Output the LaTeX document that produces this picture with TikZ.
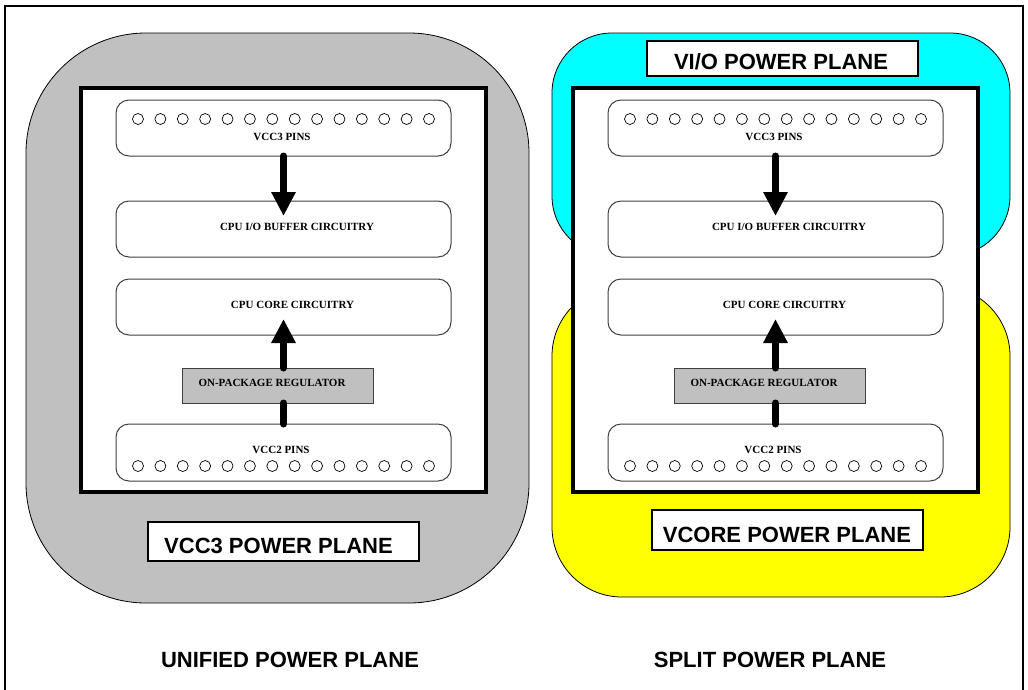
\documentclass[tikz,border=0pt]{standalone}
\usepackage{fontspec}
\setmainfont{Liberation Serif}
\setsansfont{Liberation Sans}
\usetikzlibrary{arrows.meta}
\definecolor{planegray}{HTML}{C0C0C0}
\definecolor{planecyan}{HTML}{00FFFF}
\definecolor{planeyellow}{HTML}{FFFF00}
\definecolor{boxline}{HTML}{404040}
\tikzset{
  plane/.style={draw=black, line width=0.8pt},
  chip/.style={draw=black, line width=3.5pt, fill=white, minimum width=405pt, minimum height=404pt, inner sep=0pt, outer sep=0pt},
  cbox/.style={draw=boxline, line width=1pt, rounded corners=13pt, fill=white, minimum width=335pt, minimum height=56pt, inner sep=0pt, outer sep=0pt},
  regbox/.style={draw=boxline, line width=1pt, fill=planegray, minimum width=191pt, minimum height=35pt, inner sep=0pt, outer sep=0pt},
  lblbox/.style={draw=black, line width=1.5pt, fill=white, minimum width=271pt, inner sep=0pt, outer sep=0pt},
  pin/.style={circle, draw=black, line width=0.7pt, minimum size=11pt, inner sep=0pt},
  smalltxt/.style={font=\bfseries\fontsize{11}{13}\selectfont, inner sep=0pt, anchor=base},
  bigtxt/.style={font=\sffamily\bfseries\fontsize{22}{26}\selectfont, inner sep=0pt, anchor=base},
  powerarrow/.style={line width=7pt, line cap=round, -{Triangle[length=24pt,width=23pt]}},
  powerline/.style={line width=7pt, line cap=round}
}
\begin{document}
\begin{tikzpicture}[x=1pt,y=-1pt]
\useasboundingbox (0,0) rectangle (1028,689);
% outer frame
\draw[line width=2pt] (5,6) rectangle (1023,700);
% power planes
\draw[plane, fill=planegray, rounded corners=120pt] (26,33) rectangle (529,603);
\draw[plane, fill=planecyan, rounded corners=60pt] (552,33) rectangle (1010,256);
\draw[plane, fill=planeyellow, rounded corners=70pt] (552,286) rectangle (1010,597);
\foreach \dx/\s in {0/L,492/R}{
  \node[chip] (chip\s) at ({283.5+\dx},290) {};
  \node[cbox] (vcc3\s) at ({283.5+\dx},128) {};
  \node[cbox] (buf\s) at ({283.5+\dx},229) {};
  \node[cbox] (core\s) at ({283.5+\dx},307) {};
  \node[regbox] (reg\s) at ({277.5+\dx},385.5) {};
  \node[cbox, minimum height=57pt] (vcc2\s) at ({283.5+\dx},452.5) {};
  \foreach \i in {0,...,13}{
    \node[pin] (pt\s\i) at ({138+\dx+\i*22.385},119) {};
    \node[pin] (pb\s\i) at ({138+\dx+\i*22.385},466) {};
  }
  \node[smalltxt] (t3\s) at ({282+\dx},140) {VCC3 PINS};
  \node[smalltxt] (tb\s) at ({297+\dx},230) {CPU I/O BUFFER CIRCUITRY};
  \node[smalltxt] (tc\s) at ({292.5+\dx},308) {CPU CORE CIRCUITRY};
  \node[smalltxt] (tr\s) at ({272+\dx},386) {ON-PACKAGE REGULATOR};
  \node[smalltxt] (t2\s) at ({281+\dx},453) {VCC2 PINS};
  \draw[powerarrow] (vcc3\s.south) -- ([yshift=-15pt]buf\s.north);
  \draw[powerarrow] (reg\s.north -| core\s.south) -- ([yshift=16pt]core\s.south);
  \draw[powerline] (reg\s.south -| vcc2\s.north) -- (vcc2\s.north);
}
% plane labels
\node[lblbox, minimum height=39pt] (lvcc3) at (283.5,541.5) {};
\node[bigtxt] (tvcc3) at (278.5,553) {VCC3 POWER PLANE};
\node[lblbox, minimum height=35pt] (lvio) at (782.5,58.5) {};
\node[bigtxt] (tvio) at (781,69) {VI/O POWER PLANE};
\node[lblbox, minimum height=40pt] (lvcore) at (787.5,530) {};
\node[bigtxt] (tvcore) at (787,542) {VCORE POWER PLANE};
% captions
\node[bigtxt] (unified) at (290,667) {UNIFIED POWER PLANE};
\node[bigtxt] (split) at (770,667) {SPLIT POWER PLANE};
\end{tikzpicture}
\end{document}
